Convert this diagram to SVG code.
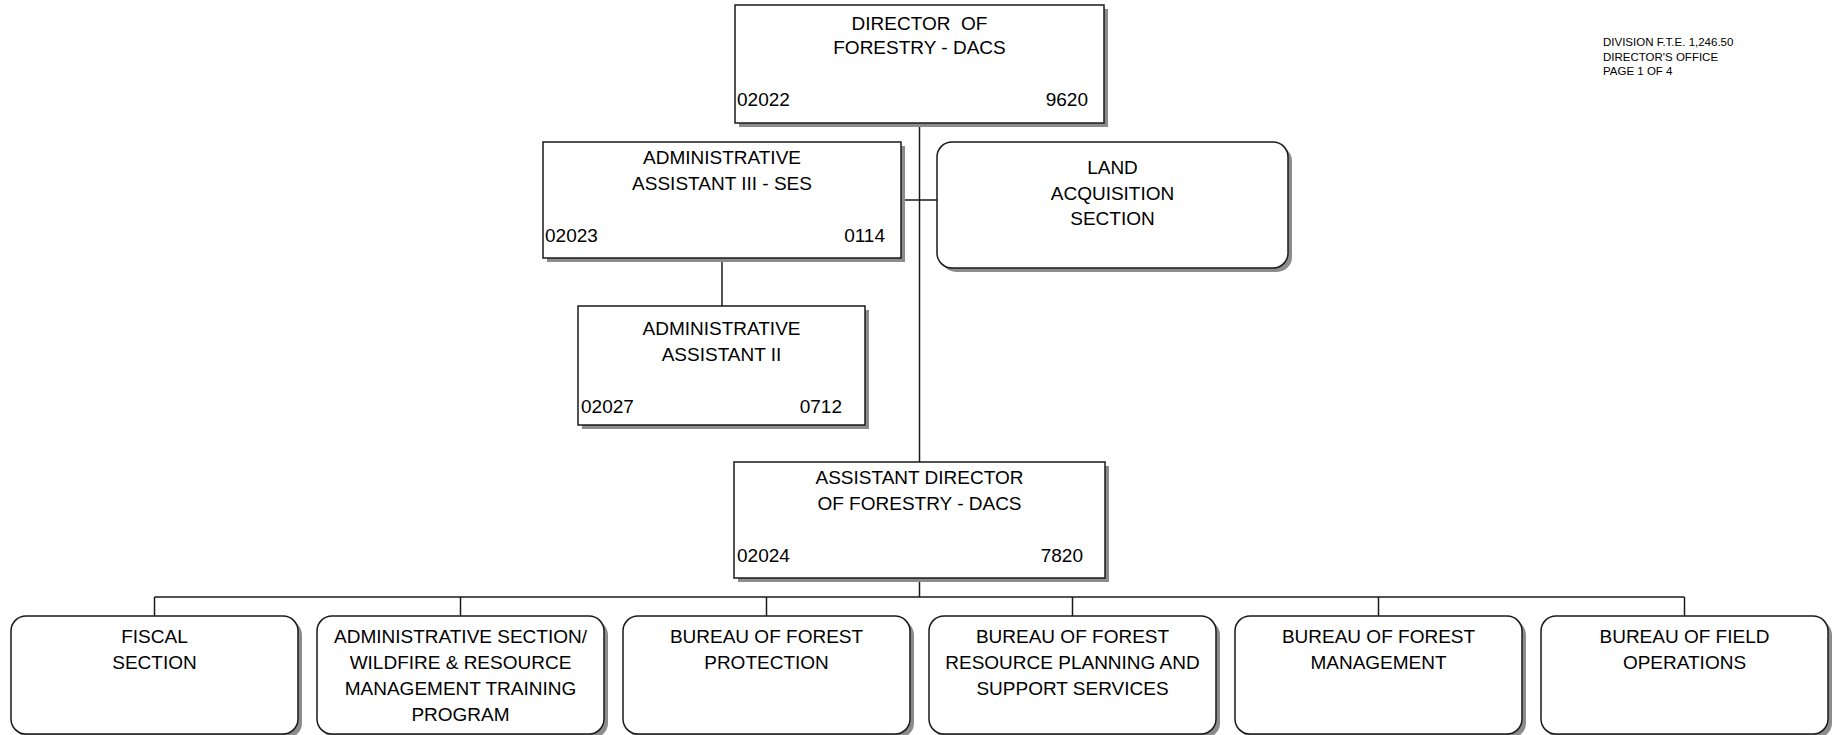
<svg xmlns="http://www.w3.org/2000/svg" width="1835" height="735" viewBox="0 0 1835 735">
  <style>
    .box { fill: #ffffff; stroke: #1a1a1a; stroke-width: 1.5; }
    .shadow { fill: #8c8c8c; stroke: none; }
    .lbl { font-family: "Liberation Sans", Arial, sans-serif; font-size: 19px; fill: #000; text-anchor: middle; }
    .num { font-family: "Liberation Sans", Arial, sans-serif; font-size: 19px; fill: #000; }
    .end { text-anchor: end; }
    .note { font-family: "Liberation Sans", Arial, sans-serif; font-size: 11.5px; fill: #000; }
    .conn { stroke: #1a1a1a; stroke-width: 1.5; fill: none; }
  </style>

  <rect width="1835" height="735" fill="#ffffff"/>

  <!-- connectors -->
  <g id="connectors">
    <line class="conn" x1="919.5" y1="123" x2="919.5" y2="462"/>
    <line class="conn" x1="901" y1="200" x2="937" y2="200"/>
    <line class="conn" x1="722" y1="258" x2="722" y2="306"/>
    <line class="conn" x1="919.5" y1="578" x2="919.5" y2="597"/>
    <line class="conn" x1="154.5" y1="597" x2="1684.5" y2="597"/>
    <line class="conn" x1="154.5" y1="597" x2="154.5" y2="616"/>
    <line class="conn" x1="460.5" y1="597" x2="460.5" y2="616"/>
    <line class="conn" x1="766.5" y1="597" x2="766.5" y2="616"/>
    <line class="conn" x1="1072.5" y1="597" x2="1072.5" y2="616"/>
    <line class="conn" x1="1378.5" y1="597" x2="1378.5" y2="616"/>
    <line class="conn" x1="1684.5" y1="597" x2="1684.5" y2="616"/>
  </g>

  <!-- header notes -->
  <g id="page-info">
    <text class="note" x="1603" y="46">DIVISION F.T.E. 1,246.50</text>
    <text class="note" x="1603" y="61">DIRECTOR'S OFFICE</text>
    <text class="note" x="1603" y="75">PAGE 1 OF 4</text>
  </g>

  <g id="director">
    <rect class="shadow" x="739" y="9" width="369" height="118"/>
    <rect class="box" x="735" y="5" width="369" height="118"/>
    <text class="lbl" x="919.5" y="30" xml:space="preserve">DIRECTOR  OF</text>
    <text class="lbl" x="919.5" y="54">FORESTRY - DACS</text>
    <text class="num" x="737" y="106">02022</text>
    <text class="num end" x="1088" y="106">9620</text>
  </g>

  <g id="admin-assistant-3">
    <rect class="shadow" x="547" y="146" width="358" height="116"/>
    <rect class="box" x="543" y="142" width="358" height="116"/>
    <text class="lbl" x="722" y="164">ADMINISTRATIVE</text>
    <text class="lbl" x="722" y="190">ASSISTANT III - SES</text>
    <text class="num" x="545" y="242">02023</text>
    <text class="num end" x="885" y="242">0114</text>
  </g>

  <g id="land-acquisition">
    <rect class="shadow" x="941" y="146" width="351" height="126" rx="15"/>
    <rect class="box" x="937" y="142" width="351" height="126" rx="15"/>
    <text class="lbl" x="1112.5" y="174">LAND</text>
    <text class="lbl" x="1112.5" y="200">ACQUISITION</text>
    <text class="lbl" x="1112.5" y="225">SECTION</text>
  </g>

  <g id="admin-assistant-2">
    <rect class="shadow" x="582" y="310" width="287" height="119"/>
    <rect class="box" x="578" y="306" width="287" height="119"/>
    <text class="lbl" x="721.5" y="335">ADMINISTRATIVE</text>
    <text class="lbl" x="721.5" y="361">ASSISTANT II</text>
    <text class="num" x="581" y="413">02027</text>
    <text class="num end" x="842" y="413">0712</text>
  </g>

  <g id="assistant-director">
    <rect class="shadow" x="738" y="466" width="371" height="116"/>
    <rect class="box" x="734" y="462" width="371" height="116"/>
    <text class="lbl" x="919.5" y="484">ASSISTANT DIRECTOR</text>
    <text class="lbl" x="919.5" y="510">OF FORESTRY - DACS</text>
    <text class="num" x="737" y="562">02024</text>
    <text class="num end" x="1083" y="562">7820</text>
  </g>

  <g id="fiscal-section">
    <rect class="shadow" x="15" y="620" width="287" height="118" rx="15"/>
    <rect class="box" x="11" y="616" width="287" height="118" rx="15"/>
    <text class="lbl" x="154.5" y="643">FISCAL</text>
    <text class="lbl" x="154.5" y="669">SECTION</text>
  </g>

  <g id="administrative-section">
    <rect class="shadow" x="321" y="620" width="287" height="118" rx="15"/>
    <rect class="box" x="317" y="616" width="287" height="118" rx="15"/>
    <text class="lbl" x="460.5" y="643">ADMINISTRATIVE SECTION/</text>
    <text class="lbl" x="460.5" y="669">WILDFIRE &amp; RESOURCE</text>
    <text class="lbl" x="460.5" y="695">MANAGEMENT TRAINING</text>
    <text class="lbl" x="460.5" y="721">PROGRAM</text>
  </g>

  <g id="forest-protection">
    <rect class="shadow" x="627" y="620" width="287" height="118" rx="15"/>
    <rect class="box" x="623" y="616" width="287" height="118" rx="15"/>
    <text class="lbl" x="766.5" y="643">BUREAU OF FOREST</text>
    <text class="lbl" x="766.5" y="669">PROTECTION</text>
  </g>

  <g id="resource-planning">
    <rect class="shadow" x="933" y="620" width="287" height="118" rx="15"/>
    <rect class="box" x="929" y="616" width="287" height="118" rx="15"/>
    <text class="lbl" x="1072.5" y="643">BUREAU OF FOREST</text>
    <text class="lbl" x="1072.5" y="669">RESOURCE PLANNING AND</text>
    <text class="lbl" x="1072.5" y="695">SUPPORT SERVICES</text>
  </g>

  <g id="forest-management">
    <rect class="shadow" x="1239" y="620" width="287" height="118" rx="15"/>
    <rect class="box" x="1235" y="616" width="287" height="118" rx="15"/>
    <text class="lbl" x="1378.5" y="643">BUREAU OF FOREST</text>
    <text class="lbl" x="1378.5" y="669">MANAGEMENT</text>
  </g>

  <g id="field-operations">
    <rect class="shadow" x="1545" y="620" width="287" height="118" rx="15"/>
    <rect class="box" x="1541" y="616" width="287" height="118" rx="15"/>
    <text class="lbl" x="1684.5" y="643">BUREAU OF FIELD</text>
    <text class="lbl" x="1684.5" y="669">OPERATIONS</text>
  </g>
</svg>
